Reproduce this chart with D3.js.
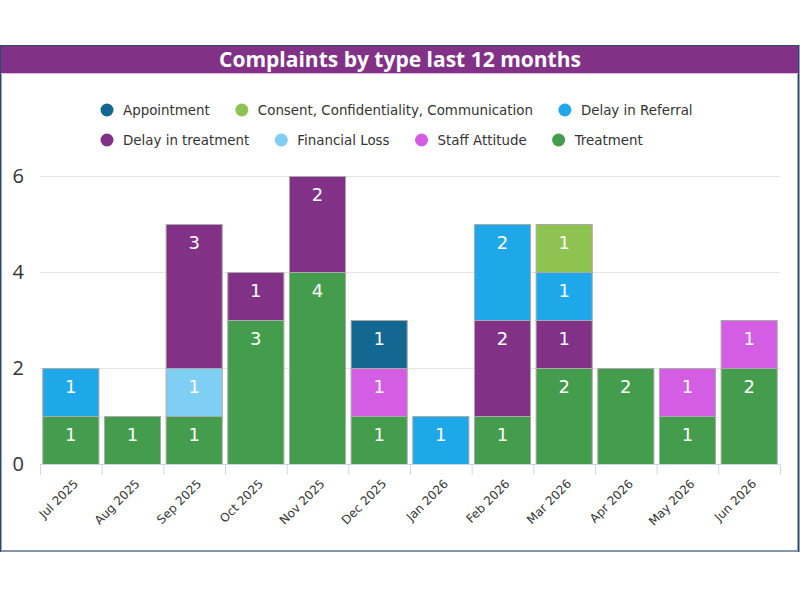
<!DOCTYPE html>
<meta charset="utf-8">
<script src="https://d3js.org/d3.v7.min.js"></script>
<style type="text/css">
    body { margin: 0; background: #fff; }
    .title { font-family: "Open Sans", sans-serif; font-weight: bold; fill: #fff; }
    .legend text { font-family: "DejaVu Sans", Verdana, sans-serif; fill: #333; }
    .y-axis text { font-family: "Open Sans", sans-serif; fill: #333; }
    .x-axis text { font-family: "DejaVu Sans", Verdana, sans-serif; fill: #333; }
    .label { font-family: "DejaVu Sans", Verdana, sans-serif; fill: #fff; }
</style>
<body>
<script>
    var months = ["Jul 2025", "Aug 2025", "Sep 2025", "Oct 2025", "Nov 2025", "Dec 2025",
        "Jan 2026", "Feb 2026", "Mar 2026", "Apr 2026", "May 2026", "Jun 2026"];

    // legend order
    var types = ["Appointment", "Consent, Confidentiality, Communication", "Delay in Referral",
        "Delay in treatment", "Financial Loss", "Staff Attitude", "Treatment"];

    var colors = ["#136892", "#8fc351", "#1ea8e9", "#813286", "#7fcef4", "#d35ee3", "#449c4d"];

    // counts per month for each type
    var appointment    = [0, 0, 0, 0, 0, 1, 0, 0, 0, 0, 0, 0];
    var consent        = [0, 0, 0, 0, 0, 0, 0, 0, 1, 0, 0, 0];
    var delayReferral  = [1, 0, 0, 0, 0, 0, 1, 2, 1, 0, 0, 0];
    var delayTreatment = [0, 0, 3, 1, 2, 0, 0, 2, 1, 0, 0, 0];
    var financialLoss  = [0, 0, 1, 0, 0, 0, 0, 0, 0, 0, 0, 0];
    var staffAttitude  = [0, 0, 0, 0, 0, 1, 0, 0, 0, 0, 1, 1];
    var treatment      = [1, 1, 1, 3, 4, 1, 0, 1, 2, 2, 1, 2];

    var yTicks = [0, 2, 4, 6];

    var series = [appointment, consent, delayReferral, delayTreatment, financialLoss, staffAttitude, treatment];

    var width = 800, height = 600;

    var svg = d3.select("body")
        .append("svg")
        .attr("width", width)
        .attr("height", height);

    // frame and title bar
    svg.append("rect")
        .attr("x", 0.5).attr("y", 46)
        .attr("width", 798).attr("height", 505)
        .style("fill", "#fff")
        .style("stroke", "#2b4b6c")
        .style("stroke-width", 2);

    svg.append("line")
        .attr("x1", 1).attr("x2", 798)
        .attr("y1", 551).attr("y2", 551)
        .style("stroke", "#8596aa")
        .style("stroke-width", 2);

    svg.append("rect")
        .attr("x", 1).attr("y", 46)
        .attr("width", 797).attr("height", 27)
        .style("fill", "#813286");

    svg.append("line")
        .attr("x1", 1).attr("x2", 798)
        .attr("y1", 73.5).attr("y2", 73.5)
        .style("stroke", "#e3b6ea");

    svg.append("text")
        .attr("class", "title")
        .attr("x", 400)
        .attr("y", 67)
        .attr("text-anchor", "middle")
        .style("font-size", "21px")
        .text("Complaints by type last 12 months");

    // scales
    var xScale = d3.scaleBand().domain(months).range([40, 780]),
        yScale = d3.scaleLinear().domain([0, 6]).range([464, 176]);

    // gridlines
    svg.selectAll(".grid")
        .data(yTicks.slice(1))
        .enter()
        .append("line")
        .attr("class", "grid")
        .attr("x1", 40).attr("x2", 780)
        .attr("y1", function(d){ return yScale(d) + 0.5; })
        .attr("y2", function(d){ return yScale(d) + 0.5; })
        .style("stroke", "#e6e6e6");

    // stack: bottom is the last legend item
    var rows = months.map(function(m, i){
        var r = {month: m};
        types.forEach(function(t, j){ r[t] = series[j][i]; });
        return r;
    });

    var stack = d3.stack().keys(types.slice().reverse())(rows);

    var barW = xScale.bandwidth() * 0.91;

    var layers = svg.selectAll(".layer")
        .data(stack)
        .enter()
        .append("g")
        .attr("class", "layer")
        .style("fill", function(d){ return colors[types.indexOf(d.key)]; });

    layers.selectAll("rect")
        .data(function(d){ return d.filter(function(s){ return s[1] > s[0]; }); })
        .enter()
        .append("rect")
        .attr("x", function(d){ return xScale(d.data.month) + (xScale.bandwidth() - barW) / 2; })
        .attr("y", function(d){ return yScale(d[1]) + 0.5; })
        .attr("width", barW)
        .attr("height", function(d){ return yScale(d[0]) - yScale(d[1]); })
        .style("stroke", "#aaaaaa")
        .style("stroke-width", 1);

    // labels sit near the top of each segment
    layers.selectAll("text")
        .data(function(d){
            return d.filter(function(s){ return s[1] > s[0]; }).map(function(s){
                return {month: s.data.month, lo: s[0], hi: s[1]};
            });
        })
        .enter()
        .append("text")
        .attr("class", "label")
        .attr("x", function(d){ return xScale(d.month) + xScale.bandwidth() / 2; })
        .attr("y", function(d){ return yScale(d.hi) + 25; })
        .attr("text-anchor", "middle")
        .style("font-size", "18px")
        .text(function(d){ return d.hi - d.lo; });

    // x axis
    var xAxis = svg.append("g")
        .attr("class", "x-axis")
        .attr("transform", "translate(0,464.5)");

    xAxis.append("line")
        .attr("x1", 40).attr("x2", 780)
        .style("stroke", "#ccd6eb");

    xAxis.selectAll(".tick")
        .data(months.concat(["end"]))
        .enter()
        .append("line")
        .attr("x1", function(d, i){ return i < months.length ? xScale(d) + 0.5 : 780.5; })
        .attr("x2", function(d, i){ return i < months.length ? xScale(d) + 0.5 : 780.5; })
        .attr("y2", 10)
        .style("stroke", "#ccd6eb");

    xAxis.selectAll("text")
        .data(months)
        .enter()
        .append("text")
        .attr("transform", function(d){
            return "translate(" + (xScale(d) + xScale.bandwidth() / 2 + 5) + ",17) rotate(-45)";
        })
        .attr("text-anchor", "end")
        .attr("dy", "0.35em")
        .style("font-size", "12px")
        .text(function(d){ return d; });

    // y axis labels
    svg.append("g")
        .attr("class", "y-axis")
        .selectAll("text")
        .data(yTicks)
        .enter()
        .append("text")
        .attr("x", 24)
        .attr("y", function(d){ return yScale(d) + 7; })
        .attr("text-anchor", "end")
        .style("font-size", "20px")
        .text(function(d){ return d; });

    // legend, flowed left to right and wrapped
    var legend = svg.append("g").attr("class", "legend");
    var lx = 107, ly = 110, maxX = 720;
    types.forEach(function(t, i){
        var g = legend.append("g");
        var txt = g.append("text")
            .attr("x", 16)
            .attr("y", 5)
            .style("font-size", "13.4px")
            .text(t);
        var w = txt.node().getComputedTextLength();
        if (lx + 16 + w > maxX) {
            lx = 107;
            ly += 30;
        }
        g.attr("transform", "translate(" + lx + "," + ly + ")");
        g.append("circle")
            .attr("r", 6.5)
            .style("fill", colors[i]);
        lx += 16 + w + 32;
    });
</script>
</body>
